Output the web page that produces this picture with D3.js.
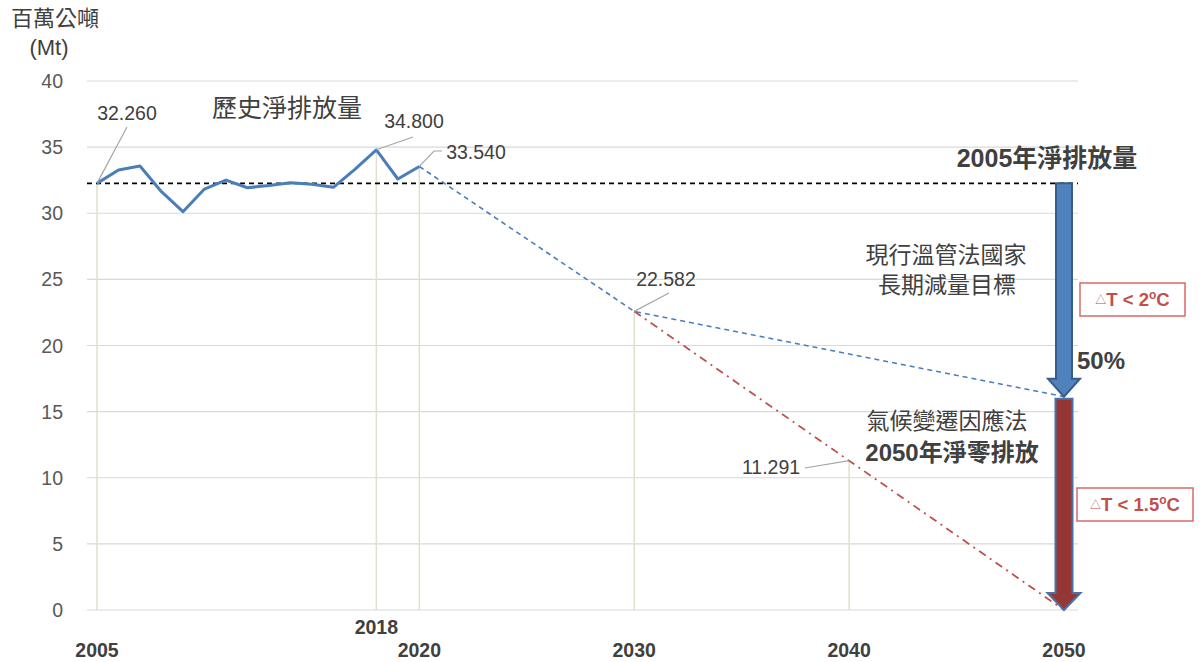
<!DOCTYPE html>
<html><head><meta charset="utf-8">
<script src="https://cdn.jsdelivr.net/npm/d3@7"></script>
<style>
body{margin:0;background:#fff;}
text{font-family:"Liberation Sans","Noto Sans CJK TC",Arial,sans-serif;}
.cjk{font-family:"Liberation Sans","Noto Sans CJK TC",sans-serif;}
</style></head>
<body><svg id="c" width="1200" height="662"></svg>
<script>
const histYears = [2005,2006,2007,2008,2009,2010,2011,2012,2013,2014,2015,2016,2017,2018,2019,2020];
const histValues = [32.26,33.27,33.57,31.63,30.12,31.83,32.51,31.93,32.09,32.31,32.19,31.96,33.32,34.80,32.59,33.54];
const ndcYears = [2020,2030,2050];
const ndcValues = [33.54,22.582,16.13];
const netZeroYears = [2030,2040,2050];
const netZeroValues = [22.582,11.291,0];
const baseline = 32.26;
const yTicks = [0,5,10,15,20,25,30,35,40];
const xTickYears = [2005,2018,2020,2030,2040,2050];
const dropYears = [2005,2018,2020,2030,2040];
const dropValues = [32.26,34.80,33.54,22.582,11.291];

const svg = d3.select("#c");
const x = d3.scaleLinear().domain([2005,2050]).range([97,1064]);
const y = d3.scaleLinear().domain([0,40]).range([610,81]);

// gridlines
svg.append("g").selectAll("line").data(yTicks).join("line")
  .attr("x1",87).attr("x2",1078).attr("y1",d=>y(d)).attr("y2",d=>y(d))
  .attr("stroke","#d9d9d9").attr("stroke-width",1.2);

// y labels
svg.append("g").selectAll("text").data(yTicks).join("text")
  .attr("x",63).attr("y",d=>y(d)).attr("dy","0.36em").attr("text-anchor","end")
  .attr("font-size",19.5).attr("fill","#595959").text(d=>d);

// axis title
svg.append("text").attr("class","cjk").attr("x",55).attr("y",26).attr("text-anchor","middle")
  .attr("font-size",22).attr("fill","#404040").text("百萬公噸");
svg.append("text").attr("x",49).attr("y",55).attr("text-anchor","middle")
  .attr("font-size",22).attr("fill","#404040").text("(Mt)");

// x labels
svg.append("g").selectAll("text").data(xTickYears).join("text")
  .attr("x",d=>x(d)).attr("y",d=>d===2018?634:657).attr("text-anchor","middle")
  .attr("font-size",19.5).attr("font-weight","bold").attr("fill","#404040").text(d=>d);

// drop lines
svg.append("g").selectAll("line").data(dropYears).join("line")
  .attr("x1",d=>x(d)).attr("x2",d=>x(d)).attr("y1",(d,i)=>y(dropValues[i])).attr("y2",y(0))
  .attr("stroke","#e3dfcc").attr("stroke-width",1.5);

// baseline
svg.append("line").attr("x1",87).attr("x2",1078).attr("y1",y(baseline)).attr("y2",y(baseline))
  .attr("stroke","#000").attr("stroke-width",1.6).attr("stroke-dasharray","5,4");

const line = d3.line().x(d=>x(d[0])).y(d=>y(d[1]));
svg.append("path").datum(ndcYears.map((d,i)=>[d,ndcValues[i]])).attr("d",line)
  .attr("fill","none").attr("stroke","#4a7ebb").attr("stroke-width",1.6).attr("stroke-dasharray","5,4");
svg.append("path").datum(netZeroYears.map((d,i)=>[d,netZeroValues[i]])).attr("d",line)
  .attr("fill","none").attr("stroke","#c0504d").attr("stroke-width",1.8).attr("stroke-dasharray","8,5,2,5");
svg.append("path").datum(histYears.map((d,i)=>[d,histValues[i]])).attr("d",line)
  .attr("fill","none").attr("stroke","#4a7ebb").attr("stroke-width",3).attr("stroke-linejoin","round");

// leader lines and value labels
function leader(pts){svg.append("polyline").attr("points",pts.map(p=>p.join(",")).join(" "))
  .attr("fill","none").attr("stroke","#a6a6a6").attr("stroke-width",1.2);}
leader([[x(2005),y(32.26)],[127,127]]);
leader([[x(2018),y(34.80)],[413,137]]);
leader([[x(2020),y(33.54)],[434,151],[442,151]]);
leader([[x(2030),y(22.582)],[669,293]]);
leader([[x(2040),y(11.291)],[805,468]]);
const valLabels = [["32.260",127,113],["34.800",414,121],["33.540",476,152],["22.582",666,279],["11.291",771,467]];
svg.append("g").selectAll("text").data(valLabels).join("text")
  .attr("x",d=>d[1]).attr("y",d=>d[2]).attr("dy","0.36em").attr("text-anchor","middle")
  .attr("font-size",19.5).attr("fill","#404040").text(d=>d[0]);

// annotations
function label(t,cx,cy,size,bold){svg.append("text").attr("class","cjk").attr("x",cx).attr("y",cy).attr("dy","0.36em")
  .attr("text-anchor","middle").attr("font-size",size).attr("font-weight",bold?"bold":"normal").attr("fill","#404040").text(t);}
label("歷史淨排放量",287,108,25,false);
label("2005年淨排放量",1047,158,25,true);
label("現行溫管法國家",946,255,23,false);
label("長期減量目標",947,285,23,false);
label("氣候變遷因應法",947,421,23,false);
label("2050年淨零排放",952,452,24,true);
label("50%",1101,360,24,true);

// arrows
function arrow(cx,y0,y1,shaftW,headW,headH,fill,stroke){
  const p = d3.path();
  p.moveTo(cx-shaftW/2,y0); p.lineTo(cx+shaftW/2,y0); p.lineTo(cx+shaftW/2,y1-headH);
  p.lineTo(cx+headW/2,y1-headH); p.lineTo(cx,y1); p.lineTo(cx-headW/2,y1-headH);
  p.lineTo(cx-shaftW/2,y1-headH); p.closePath();
  svg.append("path").attr("d",p.toString()).attr("fill",fill).attr("stroke",stroke).attr("stroke-width",2);
}
const ax = x(2050);
arrow(ax,y(baseline),y(ndcValues[2]),16,32,18,"#4f81bd","#385d8a");
arrow(ax,y(ndcValues[2])+2,y(0),17,33,17,"#953735","#4a72a8");

// temperature boxes
function tbox(x0,y0,w,h,num){
  svg.append("rect").attr("x",x0).attr("y",y0).attr("width",w).attr("height",h)
    .attr("fill","#fff").attr("stroke","#d9686a").attr("stroke-width",1.5);
  const t = svg.append("text").attr("x",x0+w/2).attr("y",y0+h/2+6.5).attr("text-anchor","middle")
    .attr("fill","#c0504d").attr("font-weight","bold").attr("font-size",18.5);
  t.append("tspan").attr("font-size",11).attr("font-weight","normal").attr("dy",-2).text("△");
  t.append("tspan").attr("dy",2).text("T < "+num);
  t.append("tspan").attr("font-size",12).attr("dy",-7).text("o");
  t.append("tspan").attr("dy",7).text("C");
}
tbox(1080,283,105,33,"2");
tbox(1077,488,116,33,"1.5");
</script></body></html>
